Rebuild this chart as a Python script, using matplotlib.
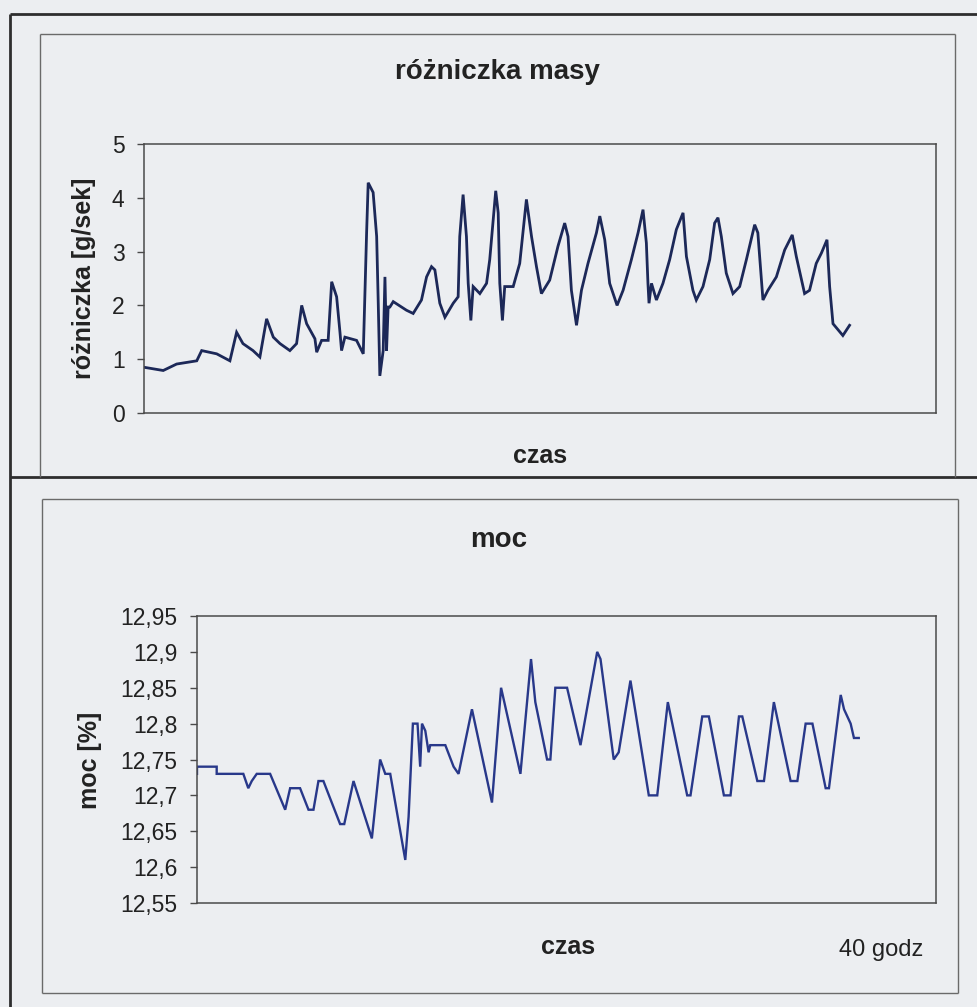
import matplotlib
matplotlib.use("Agg")
import matplotlib.pyplot as plt
from matplotlib.lines import Line2D
from matplotlib.ticker import FuncFormatter

# dane (czas w godzinach)
# ======================================================================================================================

t_roznica = [0.0, 1.09, 1.85, 2.99, 3.27, 4.12, 4.87, 5.25, 5.61, 6.18,
             6.57, 6.95, 7.33, 7.71, 8.27, 8.65, 8.94, 9.22, 9.69, 9.79,
             10.07, 10.44, 10.64, 10.92, 11.11, 11.20, 11.39, 12.05, 12.43, 12.62,
             12.71, 12.99, 13.19, 13.28, 13.37, 13.56, 13.66, 13.75, 13.84, 13.94,
             14.13, 14.88, 15.26, 15.73, 16.02, 16.30, 16.49, 16.77, 17.06, 17.53,
             17.81, 17.90, 18.09, 18.28, 18.38, 18.53, 18.66, 19.04, 19.42, 19.60,
             19.94, 20.08, 20.17, 20.32, 20.45, 20.93, 21.30, 21.68, 21.97, 22.25,
             22.53, 23.00, 23.47, 23.85, 24.04, 24.23, 24.52, 24.80, 25.17, 25.65,
             25.84, 26.12, 26.40, 26.82, 27.16, 27.63, 28.01, 28.29, 28.48, 28.57,
             28.63, 28.77, 29.05, 29.42, 29.80, 30.18, 30.56, 30.75, 31.12, 31.31,
             31.69, 32.07, 32.35, 32.54, 32.73, 33.01, 33.39, 33.77, 34.15, 34.62,
             34.80, 34.99, 35.09, 35.37, 35.85, 36.32, 36.75, 36.98, 37.45, 37.73,
             38.11, 38.40, 38.72, 38.87, 39.06, 39.62, 40.0]
roznica = [0.85, 0.79, 0.91, 0.97, 1.16, 1.10, 0.97, 1.50, 1.29, 1.16,
           1.04, 1.75, 1.41, 1.29, 1.16, 1.29, 2.00, 1.66, 1.38, 1.13,
           1.35, 1.35, 2.44, 2.16, 1.50, 1.16, 1.41, 1.35, 1.10, 3.35,
           4.28, 4.10, 3.28, 2.04, 0.69, 1.16, 2.53, 1.16, 1.97, 1.97,
           2.07, 1.91, 1.85, 2.10, 2.53, 2.72, 2.66, 2.04, 1.78, 2.04,
           2.16, 3.28, 4.06, 3.28, 2.41, 1.72, 2.35, 2.22, 2.41, 2.85,
           4.13, 3.72, 2.41, 1.72, 2.35, 2.35, 2.78, 3.97, 3.28, 2.72,
           2.22, 2.47, 3.10, 3.53, 3.28, 2.28, 1.63, 2.28, 2.78, 3.35,
           3.66, 3.22, 2.41, 2.00, 2.28, 2.85, 3.35, 3.78, 3.16, 2.41,
           2.04, 2.41, 2.10, 2.41, 2.85, 3.41, 3.72, 2.91, 2.28, 2.10,
           2.35, 2.85, 3.53, 3.63, 3.28, 2.60, 2.22, 2.35, 2.85, 3.50,
           3.35, 2.53, 2.10, 2.28, 2.53, 3.03, 3.31, 2.91, 2.22, 2.28,
           2.78, 2.97, 3.22, 2.35, 1.66, 1.44, 1.63]

t_moc = [0.0, 0.0, 1.19, 1.19, 2.80, 3.10, 3.31, 3.61, 4.42, 5.33,
         5.63, 6.23, 6.74, 7.04, 7.34, 7.64, 8.65, 8.90, 9.46, 10.57,
         11.07, 11.38, 11.68, 12.59, 12.79, 13.05, 13.33, 13.49, 13.60, 13.80,
         14.00, 14.10, 15.01, 15.51, 15.81, 16.62, 17.83, 18.38, 19.55, 20.19,
         20.45, 21.16, 21.36, 21.66, 22.37, 23.18, 24.19, 24.39, 25.19, 25.49,
         26.20, 27.31, 27.82, 28.46, 29.63, 29.83, 30.54, 30.94, 31.85, 32.25,
         32.76, 32.96, 33.87, 34.27, 34.87, 35.88, 36.29, 36.79, 37.20, 38.00,
         38.20, 38.91, 39.11, 39.51, 39.71, 40.0]
moc = [12.73, 12.74, 12.74, 12.73, 12.73, 12.71, 12.72, 12.73, 12.73, 12.68,
       12.71, 12.71, 12.68, 12.68, 12.72, 12.72, 12.66, 12.66, 12.72, 12.64,
       12.75, 12.73, 12.73, 12.61, 12.67, 12.80, 12.80, 12.74, 12.80, 12.79,
       12.76, 12.77, 12.77, 12.74, 12.73, 12.82, 12.69, 12.85, 12.73, 12.89,
       12.83, 12.75, 12.75, 12.85, 12.85, 12.77, 12.90, 12.89, 12.75, 12.76,
       12.86, 12.70, 12.70, 12.83, 12.70, 12.70, 12.81, 12.81, 12.70, 12.70,
       12.81, 12.81, 12.72, 12.72, 12.83, 12.72, 12.72, 12.80, 12.80, 12.71,
       12.71, 12.84, 12.82, 12.80, 12.78, 12.78]

ticks_roznica = [0, 1, 2, 3, 4, 5]
ticks_moc = [12.55, 12.6, 12.65, 12.7, 12.75, 12.8, 12.85, 12.9, 12.95]

# wykres
# ======================================================================================================================

plt.rcParams["font.family"] = ["Liberation Sans", "DejaVu Sans"]
W, H = 978, 1007
BG = "#eceef1"
INK = "#222222"

fig = plt.figure(figsize=(W / 100, H / 100), dpi=100, facecolor=BG)


def fx(px):
    return px / W


def fy(py):
    return 1 - py / H


def line(x0, y0, x1, y1, lw, color):
    fig.add_artist(Line2D([fx(x0), fx(x1)], [fy(y0), fy(y1)], lw=lw, color=color,
                          solid_capstyle="butt", transform=fig.transFigure))


# ramki
line(10, 14, 978, 14, 2.0, "#2e2e2e")
line(10, 14, 10, 1007, 2.0, "#2e2e2e")
line(10, 477.5, 978, 477.5, 2.0, "#2e2e2e")
for (x0, y0, x1, y1) in [(40, 34, 955, 34), (40, 34, 40, 477), (955, 34, 955, 477),
                         (42, 499, 958, 499), (42, 499, 42, 993), (958, 499, 958, 993), (42, 993, 958, 993)]:
    line(x0, y0, x1, y1, 1.0, "#6a6a6a")


def style(ax):
    ax.set_facecolor(BG)
    for s in ax.spines.values():
        s.set_color("#4a4a4a")
        s.set_linewidth(1.1)
    ax.set_xticks([])
    ax.tick_params(axis="y", direction="out", length=5, width=1, color="#4a4a4a",
                   labelsize=16.5, labelcolor=INK, pad=9)


ax1 = fig.add_axes([fx(144), fy(413), fx(936 - 144), (413 - 144) / H])
style(ax1)
ax1.plot(t_roznica, roznica, color="#1c2858", lw=2.0, solid_joinstyle="miter")
ax1.set_xlim(0, 44.9)
ax1.set_ylim(0, 5)
ax1.set_yticks(ticks_roznica)

ax2 = fig.add_axes([fx(197), fy(903), fx(936.5 - 197), (903 - 616) / H])
style(ax2)
ax2.plot(t_moc, moc, color="#28388a", lw=1.7, solid_joinstyle="miter")
ax2.set_xlim(0, 44.7)
ax2.set_ylim(12.55, 12.95)
ax2.set_yticks(ticks_moc)
ax2.yaxis.set_major_formatter(FuncFormatter(lambda v, p: f"{v:g}".replace(".", ",")))

# opisy
fig.text(fx(497), fy(79), "różniczka masy", ha="center", va="baseline", fontsize=20, fontweight="bold", color=INK)
fig.text(fx(540), fy(463), "czas", ha="center", va="baseline", fontsize=18, fontweight="bold", color=INK)
fig.text(fx(84), fy(278), "różniczka [g/sek]", ha="center", va="center", rotation=90,
         fontsize=18, fontweight="bold", color=INK)

fig.text(fx(499), fy(547), "moc", ha="center", va="baseline", fontsize=20, fontweight="bold", color=INK)
fig.text(fx(568), fy(954), "czas", ha="center", va="baseline", fontsize=18, fontweight="bold", color=INK)
fig.text(fx(881), fy(956), "40 godz", ha="center", va="baseline", fontsize=17, color=INK)
fig.text(fx(90), fy(760), "moc [%]", ha="center", va="center", rotation=90,
         fontsize=18, fontweight="bold", color=INK)

fig.savefig("out.png", dpi=100, facecolor=BG)
